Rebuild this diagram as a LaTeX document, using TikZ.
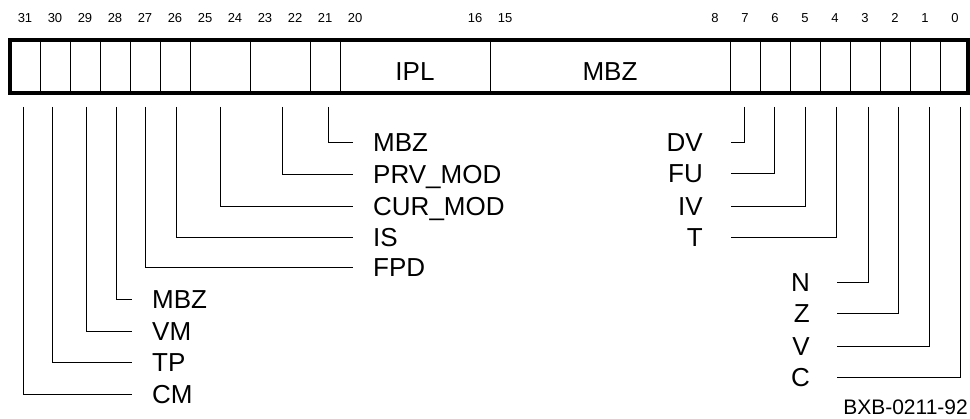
\documentclass[tikz,border=0pt]{standalone}
\usepackage{fontspec}
\setmainfont{Liberation Sans}
\usetikzlibrary{positioning}

\begin{document}
\begin{tikzpicture}[
  x=1pt, y=-1pt,
  frame/.style = {draw, line width=4pt},
  divider/.style = {line width=0.9pt},
  leader/.style = {line width=1pt},
  bitnum/.style = {font=\fontsize{13}{15}\selectfont, inner sep=0pt, text height=9.3pt, text depth=0pt},
  field/.style = {font=\fontsize{26}{30}\selectfont, inner sep=0pt, text height=18pt, text depth=0pt},
  figid/.style = {font=\fontsize{21}{24}\selectfont, inner sep=0pt, text height=15pt, text depth=0pt}
]

% Canvas
\useasboundingbox (0,0) rectangle (970,419);

% Parameters
\def\regtop{40}
\def\regbot{93}
\def\tapy{107}

% Register outline
\draw[frame] (9.5,\regtop) rectangle (967.5,\regbot);

% Field dividers (right of bit \b+1)
\foreach \b in {0,...,7,15,20,21,23,25,26,...,30}
  \draw[divider] ({940-30*\b},\regtop) -- ({940-30*\b},\regbot);

% Bit numbers
\foreach \b in {0,...,8,15,16,20,21,...,31}
  \node[bitnum] (n\b) at ({955-30*\b},18) {\b};

% Wide fields
\node[field] (ipl) at (415,72) {IPL};
\node[field] (mbzhi) at (610,72) {MBZ};

% Taps under the register
\coordinate (t31) at (23,\tapy);
\coordinate (t30) at (52,\tapy);
\coordinate (t29) at (86,\tapy);
\coordinate (t28) at (116,\tapy);
\coordinate (t27) at (145,\tapy);
\coordinate (t26) at (176,\tapy);
\coordinate (t24) at (220,\tapy);
\coordinate (t22) at (282,\tapy);
\coordinate (t21) at (328,\tapy);
\coordinate (t7) at (744,\tapy);
\coordinate (t6) at (774,\tapy);
\coordinate (t5) at (805,\tapy);
\coordinate (t4) at (836,\tapy);
\coordinate (t3) at (868,\tapy);
\coordinate (t2) at (898,\tapy);
\coordinate (t1) at (929,\tapy);
\coordinate (t0) at (960,\tapy);

% Labels, left
\node[field, anchor=west] (mbzb) at (373,143) {MBZ};
\node[field, anchor=west] (prv) at (373,175) {PRV\_MOD};
\node[field, anchor=west] (cur) at (373,207) {CUR\_MOD};
\node[field, anchor=west] (is) at (373,238) {IS};
\node[field, anchor=west] (fpd) at (373,268) {FPD};
\node[field, anchor=west] (mbza) at (152,300) {MBZ};
\node[field, anchor=west] (vm) at (152,332) {VM};
\node[field, anchor=west] (tp) at (152,363) {TP};
\node[field, anchor=west] (cm) at (152,395) {CM};

% Labels, right
\node[field, anchor=east] (dv) at (703,143) {DV};
\node[field, anchor=east] (fu) at (703,174) {FU};
\node[field, anchor=east] (iv) at (703,207) {IV};
\node[field, anchor=east] (t) at (703,238) {T};
\node[field, anchor=east] (n) at (810,283) {N};
\node[field, anchor=east] (z) at (810,314) {Z};
\node[field, anchor=east] (v) at (810,347) {V};
\node[field, anchor=east] (c) at (810,378) {C};

% Leaders
\draw[leader] (t21) |- ([xshift=-20pt]mbzb.west);
\draw[leader] (t22) |- ([xshift=-20pt]prv.west);
\draw[leader] (t24) |- ([xshift=-20pt]cur.west);
\draw[leader] (t26) |- ([xshift=-20pt]is.west);
\draw[leader] (t27) |- ([xshift=-20pt]fpd.west);
\draw[leader] (t28) |- ([xshift=-20pt]mbza.west);
\draw[leader] (t29) |- ([xshift=-20pt]vm.west);
\draw[leader] (t30) |- ([xshift=-20pt]tp.west);
\draw[leader] (t31) |- ([xshift=-20pt]cm.west);
\draw[leader] (t7) |- ([xshift=28pt]dv.east);
\draw[leader] (t6) |- ([xshift=28pt]fu.east);
\draw[leader] (t5) |- ([xshift=28pt]iv.east);
\draw[leader] (t4) |- ([xshift=28pt]t.east);
\draw[leader] (t3) |- ([xshift=27pt]n.east);
\draw[leader] (t2) |- ([xshift=27pt]z.east);
\draw[leader] (t1) |- ([xshift=27pt]v.east);
\draw[leader] (t0) |- ([xshift=27pt]c.east);

% Figure number
\node[figid, anchor=east] (fig) at (968,407) {BXB-0211-92};

\end{tikzpicture}
\end{document}
